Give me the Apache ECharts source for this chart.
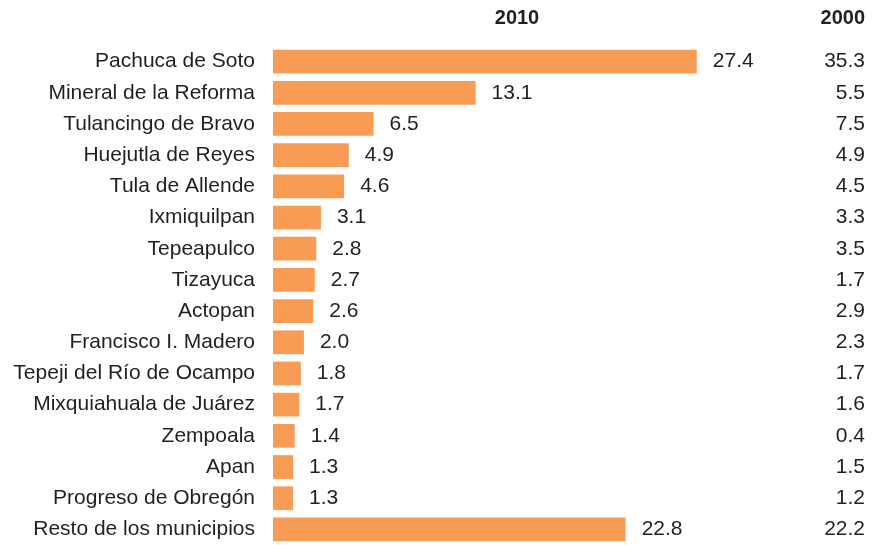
<!DOCTYPE html>
<html>
<head>
<meta charset="utf-8">
<script src="https://cdn.jsdelivr.net/npm/echarts@6/dist/echarts.min.js"></script>
<style>
  html, body { margin: 0; padding: 0; background: #fff; }
  #chart { width: 883px; height: 545px; }
</style>
</head>
<body>
<div id="chart"></div>
<script>
var municipios = ['Pachuca de Soto', 'Mineral de la Reforma', 'Tulancingo de Bravo', 'Huejutla de Reyes',
	'Tula de Allende', 'Ixmiquilpan', 'Tepeapulco', 'Tizayuca', 'Actopan', 'Francisco I. Madero',
	'Tepeji del Río de Ocampo', 'Mixquiahuala de Juárez', 'Zempoala', 'Apan', 'Progreso de Obregón',
	'Resto de los municipios'];
var valores2010 = [27.4, 13.1, 6.5, 4.9, 4.6, 3.1, 2.8, 2.7, 2.6, 2.0, 1.8, 1.7, 1.4, 1.3, 1.3, 22.8];
var valores2000 = [35.3, 5.5, 7.5, 4.9, 4.5, 3.3, 3.5, 1.7, 2.9, 2.3, 1.7, 1.6, 0.4, 1.5, 1.2, 22.2];

var textColor = '#231f20';
var fontFam = 'Liberation Sans, Arial, sans-serif';

var chart = echarts.init(document.getElementById('chart'));

var option = {
	animation: false,
	title: [
		{
			text: '2010', left: 517, top: 8, textAlign: 'center', padding: 0,
			textStyle: { fontFamily: fontFam, fontSize: 20, fontWeight: 'bold', color: textColor }
		},
		{
			text: '2000', right: 18, top: 8, padding: 0,
			textStyle: { fontFamily: fontFam, fontSize: 20, fontWeight: 'bold', color: textColor }
		}
	],
	grid: { left: 273, right: 13, top: 46, height: 501 },
	xAxis: {
		type: 'value', min: 0, max: 38.6,
		show: false
	},
	yAxis: [
		{
			type: 'category', inverse: true, data: municipios,
			axisLine: { show: false }, axisTick: { show: false },
			axisLabel: { margin: 18, color: textColor, fontFamily: fontFam, fontSize: 21 }
		},
		{
			type: 'category', inverse: true, position: 'right',
			data: valores2000.map(function (v) { return v.toFixed(1); }),
			axisLine: { show: false }, axisTick: { show: false },
			axisLabel: { inside: true, margin: 5, color: textColor, fontFamily: fontFam, fontSize: 21 }
		}
	],
	series: [
		{
			type: 'bar', data: valores2010, barWidth: '76%',
			itemStyle: { color: '#f89c55' },
			label: {
				show: true, position: 'right', distance: 16,
				color: textColor, fontFamily: fontFam, fontSize: 21,
				formatter: function (p) { return p.value.toFixed(1); }
			}
		}
	]
};

chart.setOption(option);
</script>
</body>
</html>
